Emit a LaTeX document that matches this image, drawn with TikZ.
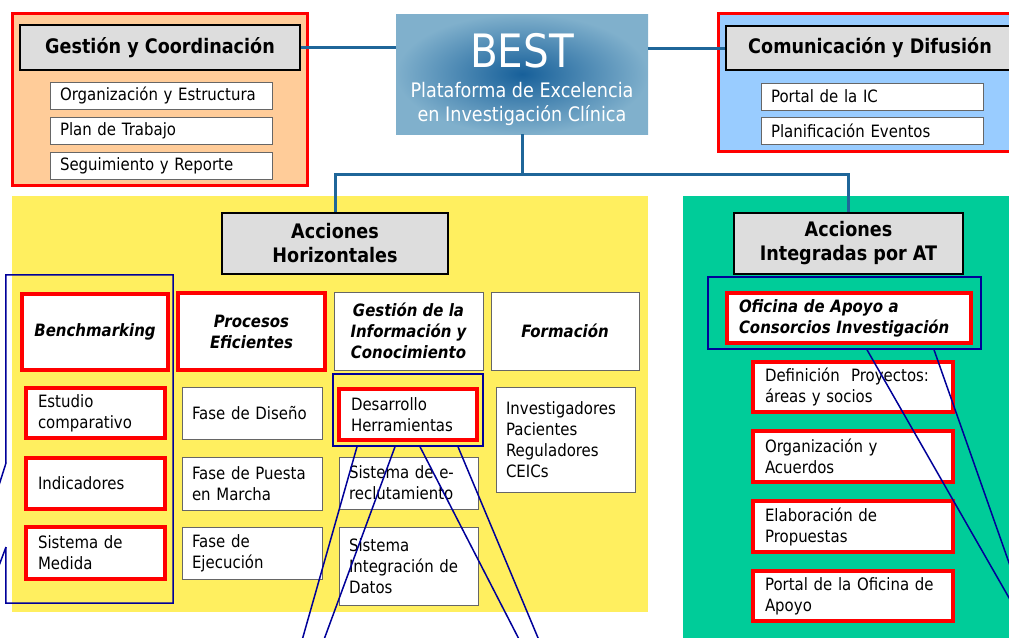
\documentclass[tikz,border=0pt]{standalone}
\usepackage{fontspec}
\setmainfont{DejaVu Sans}[FakeStretch=0.88]
\definecolor{gcorange}{HTML}{FFCC99}
\definecolor{cdblue}{HTML}{99CCFF}
\definecolor{ahyellow}{HTML}{FFEF5F}
\definecolor{aigreen}{HTML}{00CC99}
\definecolor{headgray}{HTML}{DDDDDD}
\definecolor{boxgray}{HTML}{666666}
\definecolor{linkblue}{HTML}{1F6699}
\definecolor{lensblue}{HTML}{000099}
\definecolor{bestdark}{HTML}{17609A}
\definecolor{bestlight}{HTML}{80B0CC}

\begin{document}
\begin{tikzpicture}[x=1pt, y=-1pt,
% every node/.style={scale=0.9}
panel/.style={draw=red, line width=3.5pt},
area/.style={draw=none},
head/.style={draw=black, line width=2.5pt, fill=headgray, align=center, font=\fontsize{20}{24}\selectfont\bfseries},
best/.style={inner color=bestdark, outer color=bestlight},
besttxt/.style={text=white},
link/.style={draw=linkblue, line width=3pt},
subbox/.style={draw=boxgray, line width=1pt, fill=white, inner xsep=10pt, align=left, font=\fontsize{17}{21}\selectfont},
redbox/.style={draw=red, line width=4pt, fill=white, inner xsep=12pt, align=left, font=\fontsize{17}{21}\selectfont},
accion/.style={font=\fontsize{17}{21}\selectfont\bfseries\itshape, align=center},
lens/.style={draw=lensblue, line width=1.5pt}
]
\clip (0,0) rectangle (1009,637);
\node (gcpanel) [panel, fill=gcorange, minimum width=295pt, minimum height=172pt] at (160,99.5) {};
\node (cdpanel) [panel, fill=cdblue, minimum width=303pt, minimum height=138pt] at (870,82.5) {};
\node (ahpanel) [area, fill=ahyellow, minimum width=636pt, minimum height=416pt] at (330,404) {};
\node (aipanel) [area, fill=aigreen, minimum width=337pt, minimum height=449pt] at (851.5,420.5) {};
\node (best) [best, minimum width=252pt, minimum height=120pt] at (522,74) {};
\node (bestname) [besttxt, font=\fontsize{46}{46}\selectfont] at (522,51) {BEST};
\node (bestsub) [besttxt, font=\fontsize{20}{24}\selectfont, align=center] at (522,104) {Plataforma de Excelencia\\en Investigación Clínica};
\coordinate (fork) at (522,174);
\draw [link] (best) -- (fork);
\draw [link] (fork) -| (335,214);
\draw [link] (fork) -| (848,214);
\node (gchead) [head, minimum width=280pt, minimum height=45pt] at (160,47.5) {Gestión y Coordinación};
\node (cdhead) [head, minimum width=288pt, minimum height=44pt] at (870,48) {Comunicación y Difusión};
\node (ahhead) [head, minimum width=226pt, minimum height=61pt] at (335,243.5) {Acciones\\Horizontales};
\node (aihead) [head, minimum width=229pt, minimum height=61pt] at (848.5,243.5) {Acciones\\Integradas por AT};
\draw [link] (gchead) -- (gchead -| best.west);
\draw [link] (cdhead) -- (cdhead -| best.east);
\node (orga) [subbox, text width=202pt, minimum height=27pt] at (161,95.5) {Organización y Estructura};
\node (plan) [subbox, text width=202pt, minimum height=27pt] at (161,130.5) {Plan de Trabajo};
\node (segui) [subbox, text width=202pt, minimum height=27pt] at (161,165.5) {Seguimiento y Reporte};
\node (portal) [subbox, text width=202pt, minimum height=27pt] at (872,96.5) {Portal de la IC};
\node (eventos) [subbox, text width=202pt, minimum height=27pt] at (872,131) {Planificación Eventos};
\node (bench) [redbox, accion, minimum width=146pt, minimum height=76pt] at (95,332) {Benchmarking};
\node (procesos) [redbox, accion, minimum width=147pt, minimum height=77pt] at (251.5,331.5) {Procesos\\Eficientes};
\node (gestinfo) [subbox, accion, minimum width=149pt, minimum height=78pt] at (408.5,331) {Gestión de la\\Información y\\Conocimiento};
\node (formacion) [subbox, accion, minimum width=148pt, minimum height=78pt] at (565,331) {Formación};
\node (estudio) [redbox, text width=115pt, minimum height=50pt] at (95.5,413) {Estudio\\comparativo};
\node (indica) [redbox, text width=115pt, minimum height=51pt] at (95.5,483.5) {Indicadores};
\node (medida) [redbox, text width=115pt, minimum height=52pt] at (95.5,553) {Sistema de\\Medida};
\node (fdiseno) [subbox, text width=120pt, minimum height=52pt] at (252,413) {Fase de Diseño};
\node (fpuesta) [subbox, text width=120pt, minimum height=53pt] at (252,483.5) {Fase de Puesta\\en Marcha};
\node (fejec) [subbox, text width=120pt, minimum height=52pt] at (252,553) {Fase de\\Ejecución};
\node (desarr) [redbox, text width=114pt, minimum height=51pt] at (408,414.5) {Desarrollo\\Herramientas};
\node (ereclut) [subbox, text width=119pt, minimum height=52pt] at (408.5,483) {Sistema de e-\\reclutamiento};
\node (integr) [subbox, text width=119pt, minimum height=78pt] at (408.5,566) {Sistema\\Integración de\\Datos};
\node (invest) [subbox, text width=119pt, minimum height=105pt] at (565.5,439.5) {Investigadores\\Pacientes\\Reguladores\\CEICs};
\node (oficina) [redbox, accion, align=left, text width=220pt, minimum height=50pt] at (849,318) {Oficina de Apoyo a\\Consorcios Investigación};
\node (defin) [redbox, text width=176pt, minimum height=50pt] at (853,387) {Definición\ \ Proyectos:\\áreas y socios};
\node (orgacu) [redbox, text width=176pt, minimum height=51pt] at (853,456.5) {Organización y\\Acuerdos};
\node (elabor) [redbox, text width=176pt, minimum height=51pt] at (853,526.5) {Elaboración de\\Propuestas};
\node (portalof) [redbox, text width=176pt, minimum height=50pt] at (853,596) {Portal de la Oficina de\\Apoyo};
% lupas
\node (benchfr) [minimum width=167pt, minimum height=328pt] at (89.5,439) {};
\node (desfr) [lens, minimum width=150pt, minimum height=72pt] at (408,410) {};
\node (ofifr) [lens, minimum width=273pt, minimum height=72pt] at (844.5,313) {};
\coordinate (benchA) at (6,463);
\coordinate (benchB) at (6,547);
\coordinate (lensL1) at (-6,501);
\coordinate (lensL2) at (-6,579);
\coordinate (lensB1) at (300.7,645);
\coordinate (lensB2) at (322,645);
\coordinate (lensB3) at (522,645);
\coordinate (lensB4) at (541,645);
\coordinate (lensR1) at (1020,617);
\coordinate (lensR2) at (1020,594);
\draw [lens] (benchA) -- (benchfr.north west) -- (benchfr.north east) -- (benchfr.south east) -- (benchfr.south west) -- (benchB);
\draw [lens] (benchA) -- (lensL1);
\draw [lens] (benchB) -- (lensL2);
\draw [lens] ([xshift=-51pt]desfr.south) -- (lensB1);
\draw [lens] ([xshift=-13pt]desfr.south) -- (lensB2);
\draw [lens] ([xshift=12pt]desfr.south) -- (lensB3);
\draw [lens] ([xshift=50pt]desfr.south) -- (lensB4);
\draw [lens] ([xshift=22.5pt]ofifr.south) -- (lensR1);
\draw [lens] ([xshift=89.5pt]ofifr.south) -- (lensR2);
\end{tikzpicture}
\end{document}
